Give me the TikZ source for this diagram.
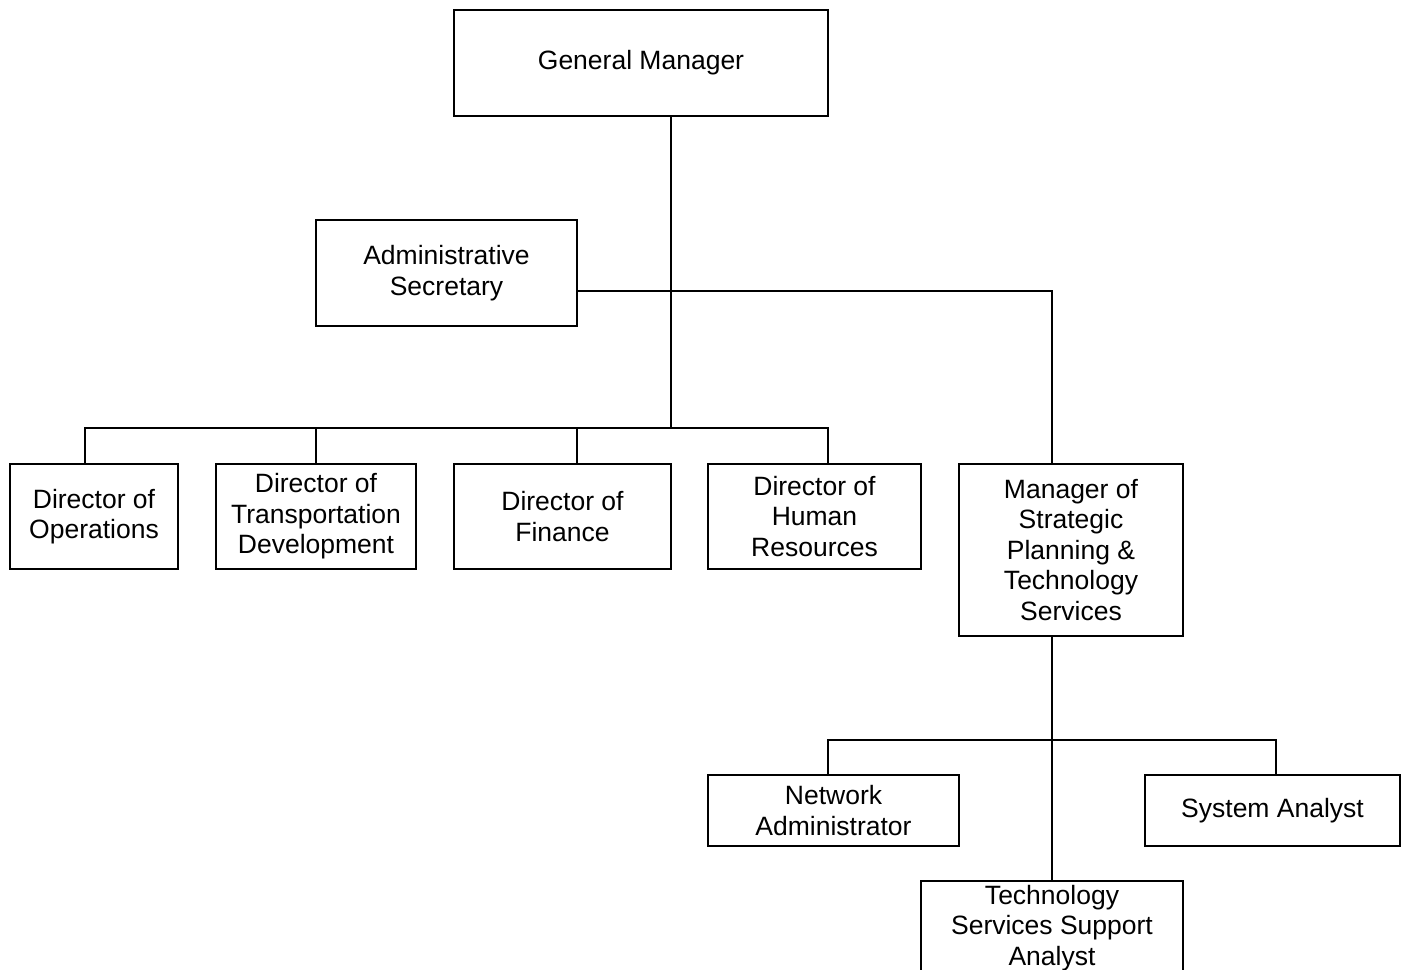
\documentclass[tikz,border=0pt]{standalone}
\usepackage{fontspec}
\setmainfont{Liberation Sans}
\begin{document}
\begin{tikzpicture}[x=1pt,y=-1pt,
  box/.style={draw=black,line width=1.6pt,fill=white,inner sep=0pt,align=center,
    font=\fontsize{26.5}{30.5}\selectfont},
  conn/.style={draw=black,line width=1.6pt}]
\useasboundingbox[fill=white] (0,0) rectangle (1407,969);
% boxes: center, width, height
\node[box,minimum width=374,minimum height=106] (gm) at (641,63) {General Manager};
\node[box,minimum width=261,minimum height=106] (as) at (446.5,273) {Administrative\\Secretary};
\node[box,minimum width=168,minimum height=105] (dop) at (94,516.5) {Director of\\Operations};
\node[box,minimum width=200,minimum height=105] (dtd) at (316,516.5) {Director of\\Transportation\\Development};
\node[box,minimum width=217,minimum height=105] (dfi) at (562.5,516.5) {Director of\\Finance};
\node[box,minimum width=213,minimum height=105] (dhr) at (814.5,516.5) {Director of\\Human\\Resources};
\node[box,minimum width=224,minimum height=172] (msp) at (1071,550) {Manager of\\Strategic\\Planning \&\\Technology\\Services};
\node[box,minimum width=251,minimum height=71] (na) at (833.5,810.5) {Network\\Administrator};
\node[box,minimum width=255,minimum height=71] (sa) at (1272.5,810.5) {System Analyst};
\node[box,minimum width=262,minimum height=94] (tss) at (1052,928) {Technology\\Services Support\\Analyst};
% junction coordinates
\coordinate (j1) at (671,428);
\coordinate (j2) at (1052,291);
\coordinate (j3) at (1052,740);
\coordinate (b0) at (85,428);
\coordinate (b1) at (316,428);
\coordinate (b2) at (577,428);
\coordinate (b3) at (828,428);
\coordinate (c0) at (828,740);
\coordinate (c1) at (1276,740);
% connectors
\draw[conn] (gm.south -| j1) -- (j1);
\draw[conn] (as.east |- j2) -- (j2) -- (msp.north -| j2);
\draw[conn] (dop.north -| b0) -- (b0) -- (b3) -- (dhr.north -| b3);
\draw[conn] (dtd.north -| b1) -- (b1);
\draw[conn] (dfi.north -| b2) -- (b2);
\draw[conn] (msp.south -| j3) -- (tss.north -| j3);
\draw[conn] (na.north -| c0) -- (c0) -- (c1) -- (sa.north -| c1);
\end{tikzpicture}
\end{document}
